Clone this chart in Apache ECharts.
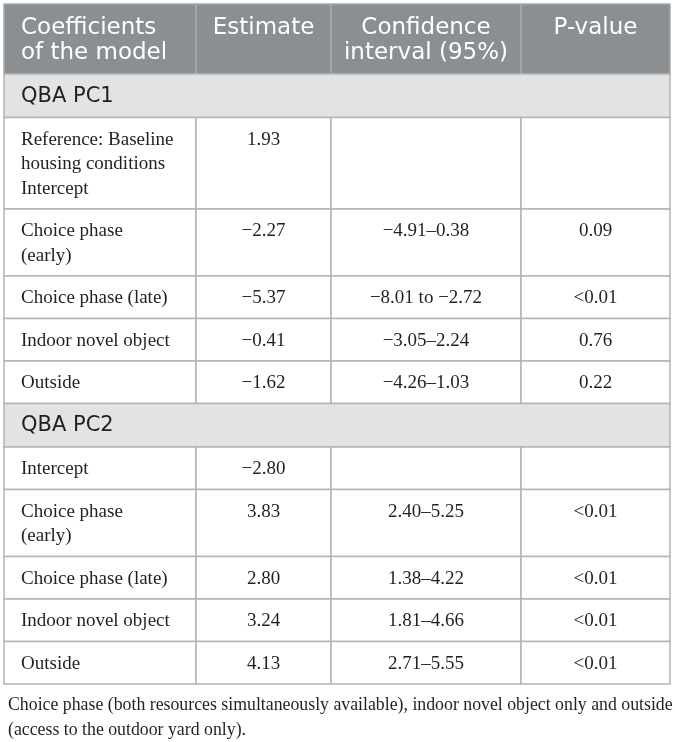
<!DOCTYPE html>
<html>
<head>
<meta charset="utf-8">
<script src="https://cdn.jsdelivr.net/npm/echarts@6/dist/echarts.min.js"></script>
<style>
  html, body { margin: 0; padding: 0; background: #fff; }
  #table { width: 675px; height: 742px; }
</style>
</head>
<body>
<div id="table"></div>
<script>
// table content
const headers = ['Coefficients\nof the model', 'Estimate', 'Confidence\ninterval (95%)', 'P-value'];
const sections = ['QBA PC1', 'QBA PC2'];

const pc1Terms = ['Reference: Baseline\nhousing conditions\nIntercept', 'Choice phase\n(early)', 'Choice phase (late)', 'Indoor novel object', 'Outside'];
const pc1Estimate = ['1.93', '\u22122.27', '\u22125.37', '\u22120.41', '\u22121.62'];
const pc1Interval = ['', '\u22124.91\u20130.38', '\u22128.01 to \u22122.72', '\u22123.05\u20132.24', '\u22124.26\u20131.03'];
const pc1PValue = ['', '0.09', '<0.01', '0.76', '0.22'];

const pc2Terms = ['Intercept', 'Choice phase\n(early)', 'Choice phase (late)', 'Indoor novel object', 'Outside'];
const pc2Estimate = ['\u22122.80', '3.83', '2.80', '3.24', '4.13'];
const pc2Interval = ['', '2.40\u20135.25', '1.38\u20134.22', '1.81\u20134.66', '2.71\u20135.55'];
const pc2PValue = ['', '<0.01', '<0.01', '<0.01', '<0.01'];

const footnote = 'Choice phase (both resources simultaneously available), indoor novel object only and outside\n(access to the outdoor yard only).';

// layout
const colEdges = [4, 196, 331, 521, 670];
const tableTop = 4;
const lineH = 24.5;

function buildRows() {
    let rows = [{ kind: 'header', cells: headers }];
    const groups = [
        [pc1Terms, pc1Estimate, pc1Interval, pc1PValue],
        [pc2Terms, pc2Estimate, pc2Interval, pc2PValue]
    ];
    groups.forEach((g, i) => {
        rows.push({ kind: 'section', cells: [sections[i]] });
        g[0].forEach((term, j) => {
            rows.push({ kind: 'data', cells: [term, g[1][j], g[2][j], g[3][j]] });
        });
    });
    return rows;
}

function rowHeight(row) {
    if (row.kind === 'header') return 70;
    if (row.kind === 'section') return 43.5;
    const lines = Math.max(...row.cells.map(c => c.split('\n').length));
    return 18 + lines * lineH;
}

const rows = buildRows();
const cells = [];
let y = tableTop;
rows.forEach(row => {
    const h = rowHeight(row);
    if (row.kind === 'section') {
        cells.push({ kind: 'section', col: 0, value: [colEdges[0], colEdges[4], y, y + h], text: row.cells[0] });
    } else {
        row.cells.forEach((t, c) => {
            cells.push({ kind: row.kind, col: c, value: [colEdges[c], colEdges[c + 1], y, y + h], text: t });
        });
    }
    y += h;
});

const styles = {
    header: { fill: '#8b8f91', stroke: '#a7abad', color: '#ffffff', font: '23px "DejaVu Sans"', pad: 12, lh: 25 },
    section: { fill: '#e2e3e2', stroke: '#b4b4b4', color: '#231f20', font: '21px "DejaVu Sans"', pad: 10, lh: 25 },
    data: { fill: '#ffffff', stroke: '#b4b4b4', color: '#231f20', font: '19px "Liberation Serif"', pad: 10, lh: lineH }
};

function renderCell(params, api) {
    const cell = cells[params.dataIndex];
    const st = styles[cell.kind];
    const p0 = api.coord([api.value(0), api.value(2)]);
    const p1 = api.coord([api.value(1), api.value(3)]);
    const left = cell.col === 0;
    return {
        type: 'group',
        children: [
            {
                type: 'rect',
                shape: { x: p0[0], y: p0[1], width: p1[0] - p0[0], height: p1[1] - p0[1] },
                style: { fill: st.fill, stroke: st.stroke, lineWidth: 1.5 }
            },
            {
                type: 'text',
                x: left ? p0[0] + 17 : (p0[0] + p1[0]) / 2,
                y: p0[1] + st.pad,
                style: {
                    text: cell.text,
                    font: st.font,
                    fill: st.color,
                    align: left ? 'left' : 'center',
                    verticalAlign: 'top',
                    lineHeight: st.lh
                }
            }
        ]
    };
}

const chart = echarts.init(document.getElementById('table'));
chart.setOption({
    animation: false,
    title: {
        text: footnote,
        left: 3,
        top: 688,
        textStyle: {
            fontFamily: 'Liberation Serif',
            fontSize: 17.8,
            fontWeight: 'normal',
            color: '#231f20',
            lineHeight: 25
        }
    },
    grid: { left: 0, right: 0, top: 0, bottom: 0 },
    xAxis: { type: 'value', min: 0, max: 675, show: false },
    yAxis: { type: 'value', min: 0, max: 742, inverse: true, show: false },
    series: [{
        type: 'custom',
        renderItem: renderCell,
        encode: { x: [0, 1], y: [2, 3] },
        data: cells.map(c => c.value)
    }]
});
</script>
</body>
</html>
